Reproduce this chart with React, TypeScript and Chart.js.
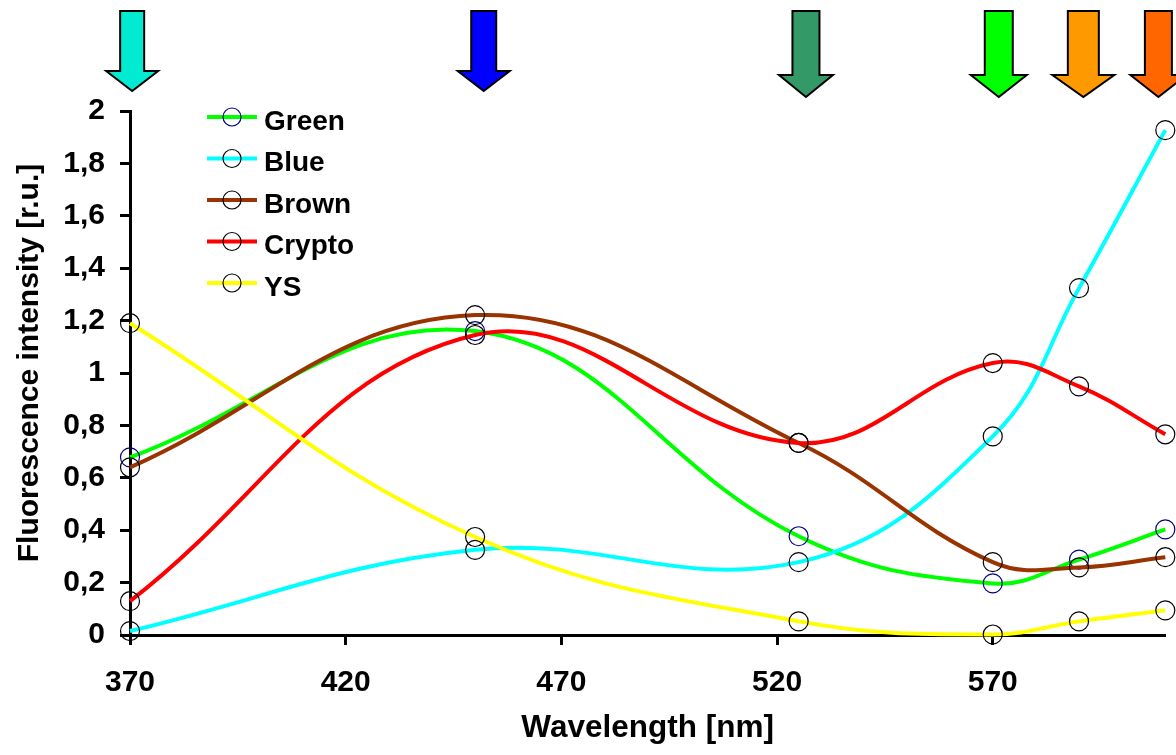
import React, { useEffect, useRef } from 'react';
import { Chart, registerables } from 'chart.js';

Chart.register(...registerables);

// ---- data ----
const wavelengths = [370, 450, 525, 570, 590, 610];
const greenValues = [0.678, 1.16, 0.377, 0.197, 0.288, 0.403];
const blueValues = [0.015, 0.325, 0.278, 0.758, 1.324, 1.927];
const brownValues = [0.64, 1.221, 0.733, 0.278, 0.258, 0.297];
const cryptoValues = [0.129, 1.145, 0.733, 1.038, 0.949, 0.766];
const ysValues = [1.19, 0.374, 0.052, 0.002, 0.052, 0.094];
const seriesNames = ['Green', 'Blue', 'Brown', 'Crypto', 'YS'];

const xTickValues = [370, 420, 470, 520, 570];
const yTickValues = [0, 0.2, 0.4, 0.6, 0.8, 1, 1.2, 1.4, 1.6, 1.8, 2];
const yTickLabels = ['0', '0,2', '0,4', '0,6', '0,8', '1', '1,2', '1,4', '1,6', '1,8', '2'];

const xTitle = 'Wavelength [nm]';
const yTitle = 'Fluorescence intensity [r.u.]';

// excitation arrows (wavelength positions)
const arrowWavelengths = [370.5, 452, 526.7, 571.4, 591, 608.4];

// ---- styles ----
const FONT = "'Liberation Sans', Arial, Helvetica, sans-serif";
const lineColors = ['#00FF00', '#00FFFF', '#993300', '#FF0000', '#FFFF00'];
const markerColors = ['#000080', '#000000', '#000000', '#000000', '#000000'];
const arrowColors = ['#00EBD2', '#0000FF', '#339966', '#00FF00', '#FF9900', '#FF6600'];
const arrowShapes = [
  { shaft: 24, head: 52, top: 11, neck: 71, tip: 91 },
  { shaft: 25, head: 52, top: 11, neck: 71, tip: 91 },
  { shaft: 27, head: 54, top: 11, neck: 75, tip: 97 },
  { shaft: 28, head: 56, top: 11, neck: 75, tip: 97 },
  { shaft: 31, head: 62, top: 11, neck: 75, tip: 97 },
  { shaft: 27, head: 56, top: 11, neck: 75, tip: 97 },
];
const seriesValues = [greenValues, blueValues, brownValues, cryptoValues, ysValues];

const overlayPlugin = {
  id: 'overlay',
  afterDraw(chart: any) {
    const ctx = chart.ctx as CanvasRenderingContext2D;
    const xs = chart.scales.x;
    // arrows
    arrowWavelengths.forEach((wl, i) => {
      const s = arrowShapes[i];
      const cx = xs.getPixelForValue(wl);
      ctx.save();
      ctx.beginPath();
      ctx.moveTo(cx - s.shaft / 2, s.top);
      ctx.lineTo(cx + s.shaft / 2, s.top);
      ctx.lineTo(cx + s.shaft / 2, s.neck);
      ctx.lineTo(cx + s.head / 2, s.neck);
      ctx.lineTo(cx, s.tip);
      ctx.lineTo(cx - s.head / 2, s.neck);
      ctx.lineTo(cx - s.shaft / 2, s.neck);
      ctx.closePath();
      ctx.fillStyle = arrowColors[i];
      ctx.fill();
      ctx.lineWidth = 2;
      ctx.lineJoin = 'miter';
      ctx.strokeStyle = '#000000';
      ctx.stroke();
      ctx.restore();
    });
    // y axis title
    ctx.save();
    ctx.translate(29.5, 363);
    ctx.rotate(-Math.PI / 2);
    ctx.font = `bold 30px ${FONT}`;
    ctx.fillStyle = '#000000';
    ctx.textAlign = 'center';
    ctx.textBaseline = 'middle';
    ctx.fillText(yTitle, 0, 0);
    ctx.restore();
    // legend
    const datasets = chart.data.datasets;
    const x0 = 207;
    const x1 = 257;
    const firstY = 117;
    const step = 41.5;
    ctx.save();
    datasets.forEach((ds: any, i: number) => {
      const y = firstY + i * step;
      ctx.beginPath();
      ctx.moveTo(x0, y);
      ctx.lineTo(x1, y);
      ctx.strokeStyle = ds.borderColor;
      ctx.lineWidth = 4;
      ctx.stroke();
      ctx.beginPath();
      ctx.arc((x0 + x1) / 2, y, 9, 0, Math.PI * 2);
      ctx.strokeStyle = ds.pointBorderColor;
      ctx.lineWidth = 1.2;
      ctx.stroke();
      ctx.fillStyle = '#000000';
      ctx.font = `bold 28px ${FONT}`;
      ctx.textAlign = 'left';
      ctx.textBaseline = 'alphabetic';
      ctx.fillText(ds.label, 264, y + 12.5);
    });
    ctx.restore();
  },
};

export default function App() {
  const canvasRef = useRef<HTMLCanvasElement | null>(null);

  useEffect(() => {
    const canvas = canvasRef.current;
    if (!canvas) return;
    const datasets = seriesNames.map((name, si) => ({
      label: name,
      data: wavelengths.map((x, i) => ({ x, y: seriesValues[si][i] })),
      borderColor: lineColors[si],
      backgroundColor: lineColors[si],
      borderWidth: 4,
      pointRadius: 9.5,
      pointHoverRadius: 9.5,
      pointBorderColor: markerColors[si],
      pointBackgroundColor: 'rgba(0,0,0,0)',
      pointBorderWidth: 1.2,
      tension: 0.4,
      fill: false,
      clip: false as any,
      order: seriesNames.length - si,
    }));

    const chart = new Chart(canvas, {
      type: 'line',
      data: { datasets },
      plugins: [overlayPlugin],
      options: {
        responsive: false,
        animation: false,
        events: [],
        layout: { padding: { left: 0, top: 111, right: 10, bottom: 0 } },
        plugins: {
          legend: { display: false },
          tooltip: { enabled: false },
          title: { display: false },
        },
        scales: {
          x: {
            type: 'linear',
            min: 370,
            max: 610,
            afterBuildTicks: (scale: any) => {
              scale.ticks = xTickValues.map((v) => ({ value: v }));
            },
            afterFit: (scale: any) => {
              scale.height = 120;
            },
            grid: {
              display: true,
              drawOnChartArea: false,
              drawTicks: true,
              tickLength: 10,
              tickWidth: 3,
              tickColor: '#000000',
              color: '#000000',
            },
            border: { display: true, color: '#000000', width: 3 },
            ticks: {
              color: '#000000',
              font: { family: FONT, size: 30, weight: 'bold' },
              padding: 20,
              maxRotation: 0,
              autoSkip: false,
              callback: (v: any) => String(v),
            },
            title: {
              display: true,
              text: xTitle,
              color: '#000000',
              font: { family: FONT, size: 31.5, weight: 'bold' },
              padding: { top: 0, bottom: 8 },
            },
          },
          y: {
            type: 'linear',
            min: 0,
            max: 2,
            afterBuildTicks: (scale: any) => {
              scale.ticks = yTickValues.map((v) => ({ value: v }));
            },
            afterFit: (scale: any) => {
              scale.width = 130;
            },
            grid: {
              display: true,
              drawOnChartArea: false,
              drawTicks: true,
              tickLength: 10,
              tickWidth: 3,
              tickColor: '#000000',
              color: '#000000',
            },
            border: { display: true, color: '#000000', width: 3 },
            ticks: {
              color: '#000000',
              font: { family: FONT, size: 30, weight: 'bold' },
              padding: 15,
              autoSkip: false,
              callback: (v: any) => {
                const idx = yTickValues.findIndex((t) => Math.abs(t - v) < 1e-9);
                return idx >= 0 ? yTickLabels[idx] : '';
              },
            },
            title: { display: false },
          },
        },
      } as any,
    });
    return () => chart.destroy();
  }, []);

  return (
    <div style={{ position: 'fixed', left: 0, top: 0, width: 1176, height: 755, background: '#ffffff' }}>
      <canvas ref={canvasRef} width={1176} height={755} style={{ width: 1176, height: 755, display: 'block' }} />
    </div>
  );
}
